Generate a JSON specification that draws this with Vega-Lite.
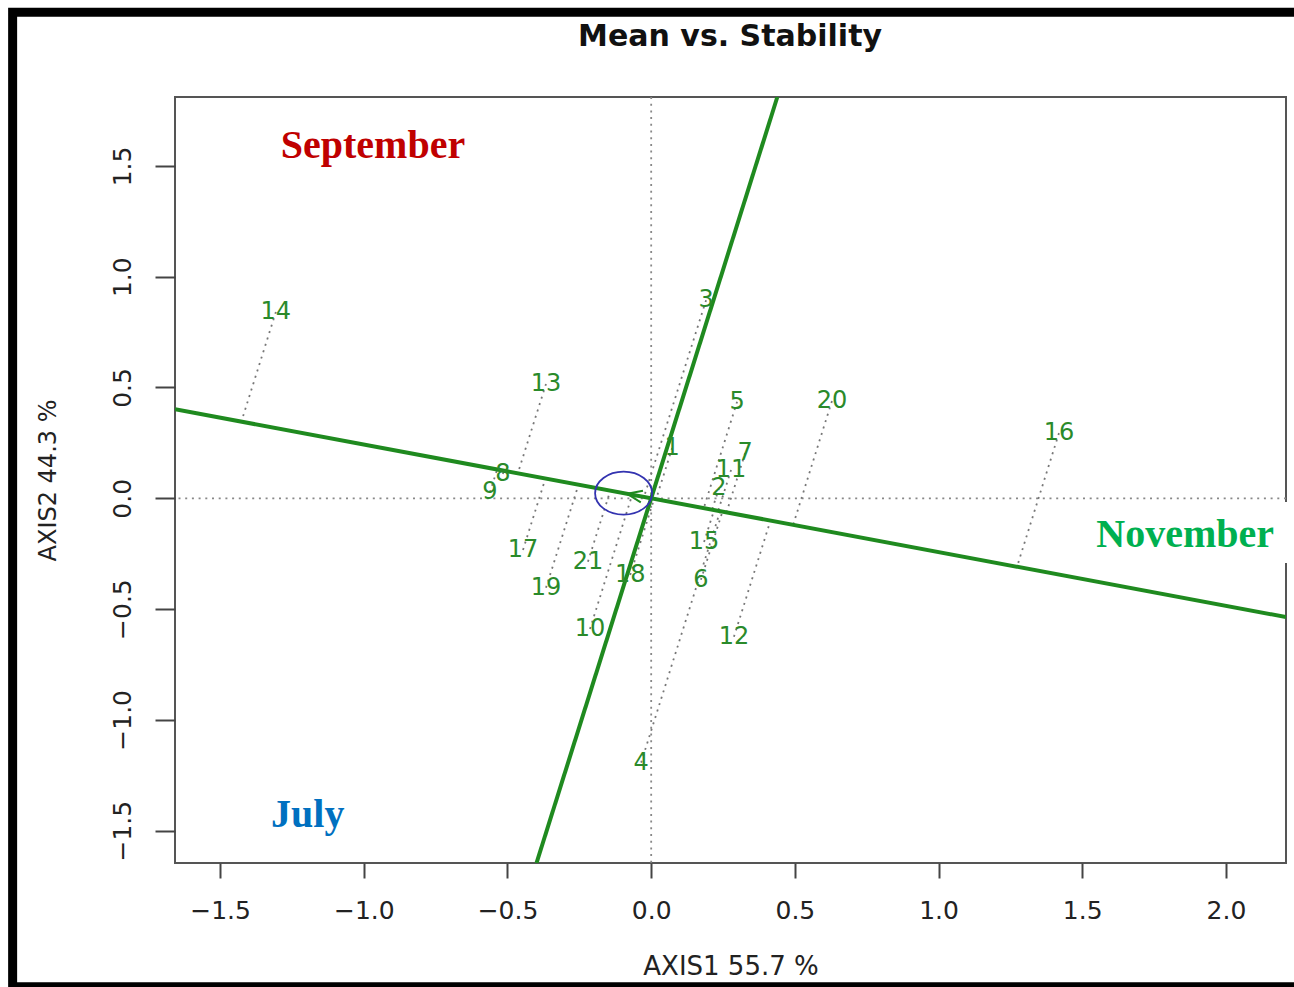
{
  "$schema": "https://vega.github.io/schema/vega-lite/v6.json",
  "width": 1111,
  "height": 766,
  "autosize": {"type": "none"},
  "padding": {"left": 175, "top": 97, "right": 8, "bottom": 124},
  "background": "white",
  "config": {
    "view": {"stroke": "#555555", "strokeWidth": 2},
    "axis": {"grid": false, "domain": false, "tickColor": "#444444", "tickWidth": 2, "labelFont": "DejaVu Sans", "labelColor": "#222222", "titleFont": "DejaVu Sans", "titleFontWeight": "normal", "titleColor": "#222222"}
  },
  "datasets": {
    "genotypes": [
      {"g": "14", "x": -1.306, "y": 0.841, "fx": -1.426, "fy": 0.346},
      {"g": "13", "x": -0.366, "y": 0.516, "fx": -0.464, "fy": 0.113},
      {"g": "8", "x": -0.516, "y": 0.110, "fx": -0.513, "fy": 0.124},
      {"g": "9", "x": -0.561, "y": 0.028, "fx": -0.536, "fy": 0.130},
      {"g": "17", "x": -0.446, "y": -0.233, "fx": -0.368, "fy": 0.089},
      {"g": "19", "x": -0.366, "y": -0.404, "fx": -0.253, "fy": 0.061},
      {"g": "21", "x": -0.220, "y": -0.286, "fx": -0.142, "fy": 0.035},
      {"g": "18", "x": -0.073, "y": -0.346, "fx": 0.010, "fy": -0.003},
      {"g": "10", "x": -0.213, "y": -0.590, "fx": -0.066, "fy": 0.016},
      {"g": "3", "x": 0.191, "y": 0.894, "fx": -0.025, "fy": 0.006},
      {"g": "1", "x": 0.073, "y": 0.227, "fx": 0.017, "fy": -0.004},
      {"g": "5", "x": 0.299, "y": 0.436, "fx": 0.183, "fy": -0.044},
      {"g": "7", "x": 0.327, "y": 0.204, "fx": 0.262, "fy": -0.064},
      {"g": "11", "x": 0.278, "y": 0.128, "fx": 0.233, "fy": -0.057},
      {"g": "2", "x": 0.236, "y": 0.046, "fx": 0.212, "fy": -0.052},
      {"g": "15", "x": 0.184, "y": -0.197, "fx": 0.219, "fy": -0.053},
      {"g": "6", "x": 0.173, "y": -0.368, "fx": 0.248, "fy": -0.060},
      {"g": "12", "x": 0.288, "y": -0.625, "fx": 0.415, "fy": -0.101},
      {"g": "20", "x": 0.629, "y": 0.439, "fx": 0.494, "fy": -0.120},
      {"g": "16", "x": 1.419, "y": 0.294, "fx": 1.273, "fy": -0.309},
      {"g": "4", "x": -0.035, "y": -1.193, "fx": 0.240, "fy": -0.058}
    ],
    "atc": [
      {"axis": "abscissa", "x": -1.657, "y": 0.402, "x2": 2.209, "y2": -0.536},
      {"axis": "ordinate", "x": -0.399, "y": -1.646, "x2": 0.439, "y2": 1.811}
    ],
    "aea": [{"x": -0.096, "y": 0.023, "ax": -0.058, "ay": 0.014}],
    "months": [
      {"label": "September", "x": -0.968, "y": 1.534},
      {"label": "November", "x": 1.858, "y": -0.2196},
      {"label": "July", "x": -1.195, "y": -1.482}
    ],
    "heading": [{"text": "Mean vs. Stability", "x": 0.2745, "y": 2.039}]
  },
  "layer": [
    {
      "data": {"values": [{}]},
      "mark": {"type": "rule", "color": "#888888", "strokeWidth": 1.8, "strokeDash": [2, 4.7]},
      "encoding": {
        "y": {"datum": 0, "type": "quantitative", "scale": {"domain": [-1.646, 1.811], "nice": false, "zero": false},
              "axis": {"values": [-1.5, -1, -0.5, 0, 0.5, 1, 1.5], "format": ".1f", "tickSize": 20, "labelFontSize": 25, "labelAngle": -90, "labelAlign": "center", "labelBaseline": "bottom", "labelPadding": 20, "title": "AXIS2 44.3 %", "titleFontSize": 24, "titlePadding": 50}}
      }
    },
    {
      "data": {"values": [{}]},
      "mark": {"type": "rule", "color": "#888888", "strokeWidth": 1.8, "strokeDash": [2, 4.7]},
      "encoding": {
        "x": {"datum": 0, "type": "quantitative", "scale": {"domain": [-1.657, 2.209], "nice": false, "zero": false},
              "axis": {"values": [-1.5, -1, -0.5, 0, 0.5, 1, 1.5, 2], "format": ".1f", "tickSize": 15, "labelFontSize": 25, "labelPadding": 20, "title": "AXIS1 55.7 %", "titleFontSize": 26, "titlePadding": 30}}
      }
    },
    {
      "data": {"name": "genotypes"},
      "mark": {"type": "rule", "color": "#777777", "strokeWidth": 1.8, "strokeDash": [2, 4.7]},
      "encoding": {
        "x": {"field": "x", "type": "quantitative", "scale": {"domain": [-1.657, 2.209], "nice": false, "zero": false}},
        "y": {"field": "y", "type": "quantitative", "scale": {"domain": [-1.646, 1.811], "nice": false, "zero": false}},
        "x2": {"field": "fx"},
        "y2": {"field": "fy"}
      }
    },
    {
      "data": {"name": "atc"},
      "mark": {"type": "rule", "color": "#1f8a1f", "strokeWidth": 4, "clip": true},
      "encoding": {
        "x": {"field": "x", "type": "quantitative", "scale": {"domain": [-1.657, 2.209], "nice": false, "zero": false}},
        "y": {"field": "y", "type": "quantitative", "scale": {"domain": [-1.646, 1.811], "nice": false, "zero": false}},
        "x2": {"field": "x2"},
        "y2": {"field": "y2"}
      }
    },
    {
      "data": {"name": "aea"},
      "mark": {"type": "point", "filled": false, "shape": "M 1 0 C 1 0.4164 0.5523 0.754 0 0.754 C -0.5523 0.754 -1 0.4164 -1 0 C -1 -0.4164 -0.5523 -0.754 0 -0.754 C 0.5523 -0.754 1 -0.4164 1 0 Z", "size": 3249, "color": "#3333b0", "strokeWidth": 1.8, "opacity": 1},
      "encoding": {
        "x": {"field": "x", "type": "quantitative", "scale": {"domain": [-1.657, 2.209], "nice": false, "zero": false}},
        "y": {"field": "y", "type": "quantitative", "scale": {"domain": [-1.646, 1.811], "nice": false, "zero": false}}
      }
    },
    {
      "data": {"name": "aea"},
      "mark": {"type": "point", "filled": false, "shape": "M 1 -0.8 L -1 0 L 1 0.8", "size": 225, "angle": 10.6, "color": "#1f8a1f", "strokeWidth": 2, "opacity": 1},
      "encoding": {
        "x": {"field": "ax", "type": "quantitative", "scale": {"domain": [-1.657, 2.209], "nice": false, "zero": false}},
        "y": {"field": "ay", "type": "quantitative", "scale": {"domain": [-1.646, 1.811], "nice": false, "zero": false}}
      }
    },
    {
      "data": {"name": "genotypes"},
      "mark": {"type": "text", "font": "DejaVu Sans", "fontSize": 24, "color": "#2a8a2a", "align": "center", "baseline": "middle"},
      "encoding": {
        "x": {"field": "x", "type": "quantitative", "scale": {"domain": [-1.657, 2.209], "nice": false, "zero": false}},
        "y": {"field": "y", "type": "quantitative", "scale": {"domain": [-1.646, 1.811], "nice": false, "zero": false}},
        "text": {"field": "g"}
      }
    },
    {
      "data": {"values": [{}]},
      "mark": {"type": "rect", "fill": "white", "strokeWidth": 0},
      "encoding": {
        "x": {"datum": 1.527, "type": "quantitative", "scale": {"domain": [-1.657, 2.209], "nice": false, "zero": false}},
        "x2": {"datum": 2.25},
        "y": {"datum": -0.017, "type": "quantitative", "scale": {"domain": [-1.646, 1.811], "nice": false, "zero": false}},
        "y2": {"datum": -0.292}
      }
    },
    {
      "data": {"name": "months"},
      "mark": {"type": "text", "font": "Liberation Serif", "fontSize": 40, "fontWeight": "bold", "align": "center", "baseline": "alphabetic"},
      "encoding": {
        "x": {"field": "x", "type": "quantitative", "scale": {"domain": [-1.657, 2.209], "nice": false, "zero": false}},
        "y": {"field": "y", "type": "quantitative", "scale": {"domain": [-1.646, 1.811], "nice": false, "zero": false}},
        "text": {"field": "label"},
        "color": {"field": "label", "type": "nominal", "scale": {"domain": ["September", "November", "July"], "range": ["#C00000", "#00B050", "#0070C0"]}, "legend": null}
      }
    },
    {
      "data": {"name": "heading"},
      "mark": {"type": "text", "font": "DejaVu Sans", "fontSize": 30, "fontWeight": "bold", "color": "#111111", "align": "center", "baseline": "alphabetic"},
      "encoding": {
        "x": {"field": "x", "type": "quantitative", "scale": {"domain": [-1.657, 2.209], "nice": false, "zero": false}},
        "y": {"field": "y", "type": "quantitative", "scale": {"domain": [-1.646, 1.811], "nice": false, "zero": false}},
        "text": {"field": "text"}
      }
    },
    {
      "data": {"values": [{}]},
      "mark": {"type": "rect", "fill": "transparent", "stroke": "black", "strokeWidth": 9},
      "encoding": {
        "x": {"datum": -2.222, "type": "quantitative", "scale": {"domain": [-1.657, 2.209], "nice": false, "zero": false}},
        "x2": {"datum": 2.27},
        "y": {"datum": 2.193, "type": "quantitative", "scale": {"domain": [-1.646, 1.811], "nice": false, "zero": false}},
        "y2": {"datum": -2.205}
      }
    }
  ]
}
